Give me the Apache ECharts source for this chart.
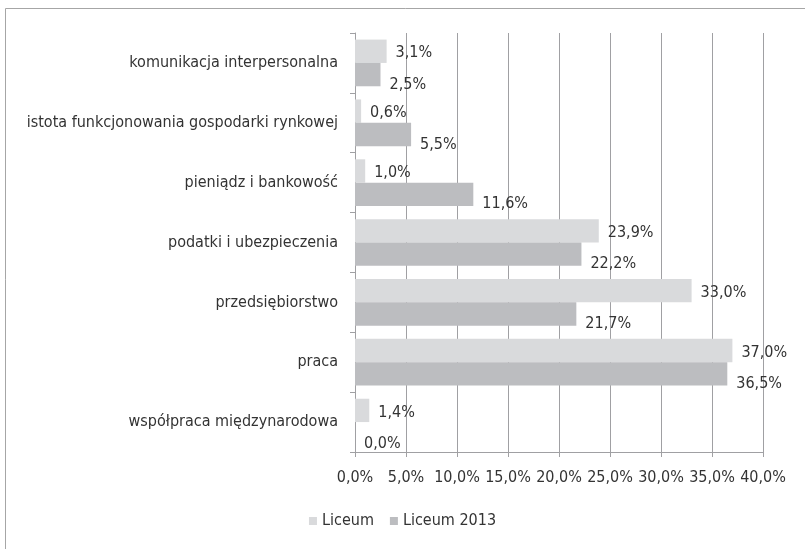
<!DOCTYPE html>
<html>
<head>
<meta charset="utf-8">
<script src="https://cdn.jsdelivr.net/npm/echarts@6/dist/echarts.min.js"></script>
<style>html,body{margin:0;padding:0;background:#fff}#c{width:805px;height:549px}</style>
</head>
<body>
<div id="c"></div>
<script>
const categories = ["komunikacja interpersonalna","istota funkcjonowania gospodarki rynkowej","pieniądz i bankowość","podatki i ubezpieczenia","przedsiębiorstwo","praca","współpraca międzynarodowa"];
const seriesNames = ["Liceum","Liceum 2013"];
const liceum = [3.1, 0.6, 1.0, 23.9, 33.0, 37.0, 1.4];
const liceum2013 = [2.5, 5.5, 11.6, 22.2, 21.7, 36.5, 0.0];
const FONT = '"Liberation Sans Narrow", "DejaVu Sans Condensed", "Roboto", sans-serif';
const fmt = v => v.toFixed(1).replace('.', ',') + '%';
const chart = echarts.init(document.getElementById('c'), null, {renderer:'canvas'});
chart.setOption({
  animation:false,
  textStyle:{fontFamily:FONT},
  graphic:[{type:'rect',shape:{x:5.5,y:8.5,width:1000,height:1000},style:{fill:'none',stroke:'#a6a6a6',lineWidth:1},silent:true}],
  legend:{
    data:seriesNames, bottom:15, left:'center', itemWidth:8, itemHeight:8, itemGap:16,
    icon:'rect', textStyle:{fontFamily:FONT,fontSize:16,color:'#333333'}
  },
  grid:{left:355,right:42,top:33,bottom:97,containLabel:false},
  xAxis:{
    type:'value',min:0,max:40,interval:5,
    axisLine:{show:true,lineStyle:{color:'#a0a0a3'}},
    axisTick:{show:true,length:5,lineStyle:{color:'#a0a0a3'}},
    splitLine:{show:true,lineStyle:{color:'#a0a0a3',width:1}},
    axisLabel:{formatter:v=>v.toFixed(1).replace('.', ',')+'%',fontFamily:FONT,fontSize:16,color:'#333333',margin:18}
  },
  yAxis:{
    type:'category',data:categories,inverse:true,
    axisLine:{show:true,lineStyle:{color:'#a0a0a3'}},
    axisTick:{show:true,length:5,lineStyle:{color:'#a0a0a3'}},
    axisLabel:{fontFamily:FONT,fontSize:16,color:'#333333',margin:17}
  },
  series:[
    {name:seriesNames[0],type:'bar',data:liceum,barGap:'0%',barCategoryGap:'22%',
     itemStyle:{color:'#d9dadc'},
     label:{show:true,position:'right',distance:9,offset:[0,2],formatter:p=>fmt(p.value),fontFamily:FONT,fontSize:16,color:'#333333'}},
    {name:seriesNames[1],type:'bar',data:liceum2013,barGap:'0%',barCategoryGap:'22%',
     itemStyle:{color:'#bcbdc0'},
     label:{show:true,position:'right',distance:9,offset:[0,10],formatter:p=>fmt(p.value),fontFamily:FONT,fontSize:16,color:'#333333'}}
  ]
});
</script>
</body>
</html>
